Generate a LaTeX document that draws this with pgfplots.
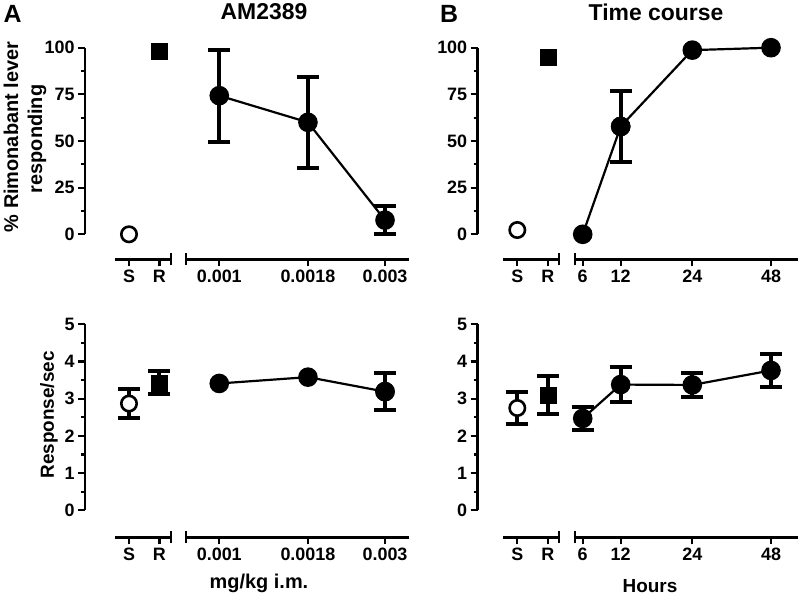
\documentclass[border=0pt]{standalone}
\usepackage{fontspec}
\setmainfont{Liberation Sans}
\usepackage{pgfplots}
\pgfplotsset{compat=1.18}
\begin{document}
\begin{tikzpicture}
\useasboundingbox (0,0) rectangle (800bp,-600bp);
\pgfplotsset{
 base/.style={scale only axis, clip=false,
   axis line style={line width=2.5bp,-},
   every tick/.style={line width=2.2bp, black},
   major tick length=7bp, minor tick length=4bp,
   tick align=outside,
   tick label style={font=\fontsize{18}{18}\selectfont\bfseries},
   /pgf/number format/assume math mode=true,
   axis x line*=bottom,
 },
 ctrl/.style={base, axis y line*=left, xmin=-0.46, xmax=1.38, width=56bp,
   xtick={0,1}, xticklabels={S,R}, minor x tick num=0,
   extra x ticks={1.38}, extra x tick labels={},
   extra x tick style={tick align=center, major tick length=12bp}},
 dose/.style={base, axis y line=none},
 top/.style={ymin=0, ymax=100, height=186.6bp, ytick={0,25,...,100}, minor y tick num=1, axis x line shift=25bp},
 bot/.style={ymin=0, ymax=5, height=186bp, ytick={0,1,...,5}, minor y tick num=1, axis x line shift=27bp},
 eb/.style={error bars/.cd, y dir=both, y explicit,
   error bar style={line width=4bp, black},
   error mark options={rotate=90, line width=4bp, mark size=11bp, black}},
 ser/.style={black, line width=2.2bp, mark=*, mark size=8.7bp, mark options={solid, fill=black}, eb},
 sal/.style={black, only marks, mark=*, mark size=7.7bp, mark options={solid, fill=white, draw=black, line width=2.6bp}, eb},
 rim/.style={black, only marks, mark=square*, mark size=8bp, mark options={solid, fill=black}, eb},
}
% ---------- Panel A top ----------
\begin{axis}[ctrl, top, at={(115bp,-234.3bp)}, anchor=south west, axis y line shift=30bp]
\addplot+[only marks, black, mark=*, mark size=7.7bp, mark options={solid, fill=white, line width=2.6bp}] coordinates {(0,0)};
\addplot+[only marks, black, mark=square*, mark size=8bp, mark options={solid, fill=black}] coordinates {(1,98)};
\end{axis}
\begin{axis}[dose, top, ytick=\empty, at={(186bp,-234.3bp)}, anchor=south west, width=223bp,
  xmode=log, xmin=0.000802, xmax=0.003517, xminorticks=false,
  xtick={0.001,0.0018,0.003}, xticklabels={0.001,0.0018,0.003},
  extra x ticks={0.000802}, extra x tick labels={},
  extra x tick style={tick align=center, major tick length=12bp}]
\addplot+[ser] coordinates {(0.001,74.3) +- (0,24.7) (0.0018,60) +- (0,24.4) (0.003,7.6) +- (0,7.5)};
\end{axis}
% ---------- Panel B top ----------
\begin{axis}[ctrl, top, at={(503.3bp,-234.3bp)}, anchor=south west, axis y line shift=25.6bp]
\addplot+[only marks, black, mark=*, mark size=7.7bp, mark options={solid, fill=white, line width=2.6bp}] coordinates {(0,2.3)};
\addplot+[only marks, black, mark=square*, mark size=8bp, mark options={solid, fill=black}] coordinates {(1,95.1)};
\end{axis}
\begin{axis}[dose, top, ytick=\empty, at={(575bp,-234.3bp)}, anchor=south west, width=223.3bp,
  xmin=-7.7, xmax=215.6,
  xtick={0,38,109.6,188.3}, xticklabels={6,12,24,48},
  extra x ticks={-7.7}, extra x tick labels={},
  extra x tick style={tick align=center, major tick length=12bp}]
% x positions of 6, 12, 24, 48 h on the drawn axis
\addplot+[black, line width=2.2bp, mark=*, mark size=8.7bp, mark options={solid, fill=black}]
  coordinates {(0,0) (38,57.8) (109.6,98.7) (188.3,100)};
\addplot+[only marks, ser] coordinates {(38,57.8) +- (0,19.2)};
\end{axis}
% ---------- Panel A bottom ----------
\begin{axis}[ctrl, bot, at={(115bp,-510.3bp)}, anchor=south west, axis y line shift=30bp]
\addplot+[sal] coordinates {(0,2.87) +- (0,0.40)};
\addplot+[rim] coordinates {(1,3.43) +- (0,0.31)};
\end{axis}
\begin{axis}[dose, bot, ytick=\empty, at={(186bp,-510.3bp)}, anchor=south west, width=223bp,
  xmode=log, xmin=0.000802, xmax=0.003517, xminorticks=false,
  xtick={0.001,0.0018,0.003}, xticklabels={0.001,0.0018,0.003},
  extra x ticks={0.000802}, extra x tick labels={},
  extra x tick style={tick align=center, major tick length=12bp}]
\addplot+[black, line width=2.2bp, mark=*, mark size=8.7bp, mark options={solid, fill=black}]
  coordinates {(0.001,3.41) (0.0018,3.58) (0.003,3.19)};
\addplot+[only marks, ser] coordinates {(0.003,3.19) +- (0,0.49)};
\end{axis}
% ---------- Panel B bottom ----------
\begin{axis}[ctrl, bot, at={(503.3bp,-510.3bp)}, anchor=south west, axis y line shift=25.6bp]
\addplot+[sal] coordinates {(0,2.75) +- (0,0.42)};
\addplot+[rim] coordinates {(1,3.10) +- (0,0.51)};
\end{axis}
\begin{axis}[dose, bot, ytick=\empty, at={(575bp,-510.3bp)}, anchor=south west, width=223.3bp,
  xmin=-7.7, xmax=215.6,
  xtick={0,38,109.6,188.3}, xticklabels={6,12,24,48},
  extra x ticks={-7.7}, extra x tick labels={},
  extra x tick style={tick align=center, major tick length=12bp}]
\addplot+[ser] coordinates {(0,2.47) +- (0,0.30) (38,3.38) +- (0,0.46) (109.6,3.37) +- (0,0.33) (188.3,3.76) +- (0,0.45)};
\end{axis}
% ---------- Text ----------
\node[font=\fontsize{25}{25}\selectfont\bfseries] at (12.5bp,-13.5bp) {A};
\node[font=\fontsize{25}{25}\selectfont\bfseries] at (449bp,-13.5bp) {B};
\node[font=\fontsize{23}{23}\selectfont\bfseries] at (264bp,-12bp) {AM2389};
\node[font=\fontsize{23}{23}\selectfont\bfseries] at (656bp,-12bp) {Time course};
\node[font=\fontsize{20}{20}\selectfont\bfseries, rotate=90] at (11bp,-137bp) {\% Rimonabant lever};
\node[font=\fontsize{20}{20}\selectfont\bfseries, rotate=90] at (37bp,-139bp) {responding};
\node[font=\fontsize{19}{19}\selectfont\bfseries, rotate=90] at (49bp,-415bp) {Response/sec};
\node[font=\fontsize{20}{20}\selectfont\bfseries] at (259bp,-583bp) {mg/kg i.m.};
\node[font=\fontsize{19}{19}\selectfont\bfseries] at (650bp,-586bp) {Hours};
\end{tikzpicture}
\end{document}
